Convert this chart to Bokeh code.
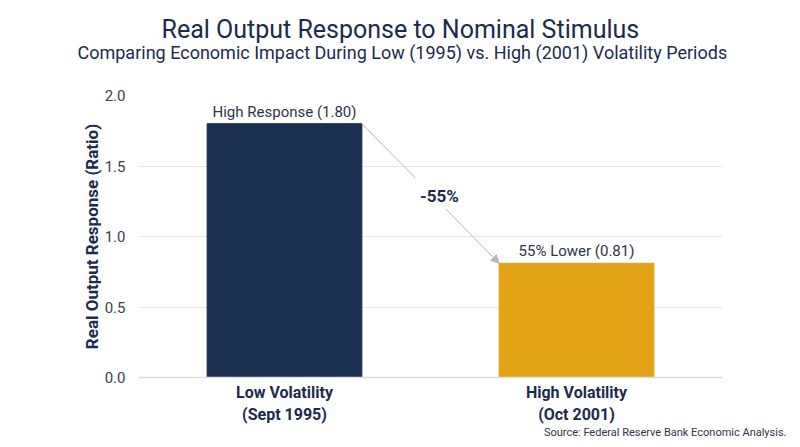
from bokeh.plotting import figure
from bokeh.models import (ColumnDataSource, Label, Arrow, NormalHead, FactorRange, Range1d,
                          Title, PrintfTickFormatter)
from bokeh.core.properties import value
from bokeh.embed import file_html
from bokeh.resources import INLINE

categories = ["Low Volatility\n(Sept 1995)", "High Volatility\n(Oct 2001)"]
values = [1.80, 0.81]
bar_labels = ["High Response (1.80)", "55% Lower (0.81)"]
colors = ["#1b2f52", "#e3a316"]
change_label = "-55%"
y_ticks = [0.0, 0.5, 1.0, 1.5, 2.0]
title_text = "Real Output Response to Nominal Stimulus"
subtitle_text = "Comparing Economic Impact During Low (1995) vs. High (2001) Volatility Periods"
source_text = "Source: Federal Reserve Bank Economic Analysis."

NAVY = "#1b2b4b"
FONT = "Roboto"
W, H = 800, 447
FL, FR, FT, FB = 138, 78, 95, 70
BAR_W = 0.53

src = ColumnDataSource(dict(cat=categories, val=values, lab=bar_labels, col=colors))

p = figure(width=W, height=H, x_range=FactorRange(*categories, range_padding=0),
           y_range=Range1d(0, 2.0), output_backend="svg", toolbar_location=None,
           min_border_left=FL, min_border_right=FR, min_border_top=FT, min_border_bottom=FB)
p.outline_line_color = None
p.background_fill_color = "white"
p.border_fill_color = "white"

p.vbar(x="cat", top="val", width=BAR_W, color="col", source=src)

p.text(x="cat", y="val", text="lab", source=src, text_align="center", text_baseline="bottom",
       y_offset=-3, text_font_size="15px", text_color="#2e3547", text_font=value(FONT))

# axes
p.yaxis.ticker = y_ticks
p.yaxis.formatter = PrintfTickFormatter(format="%.1f")
p.yaxis.axis_line_color = None
p.yaxis.major_tick_line_color = None
p.yaxis.minor_tick_line_color = None
p.yaxis.major_label_text_font = FONT
p.yaxis.major_label_text_font_size = "15px"
p.yaxis.major_label_text_color = "#3a3f4a"
p.yaxis.major_label_standoff = 7
p.yaxis.axis_label = "Real Output Response (Ratio)"
p.yaxis.axis_label_text_font = FONT
p.yaxis.axis_label_text_font_style = "bold"
p.yaxis.axis_label_text_font_size = "17px"
p.yaxis.axis_label_text_color = NAVY
p.yaxis.axis_label_standoff = 0

p.xaxis.axis_line_color = "#dddddd"
p.xaxis.axis_line_width = 1.5
p.xaxis.major_tick_line_color = None
p.xaxis.minor_tick_line_color = None
p.xaxis.major_label_text_font = FONT
p.xaxis.major_label_text_font_style = "bold"
p.xaxis.major_label_text_font_size = "16px"
p.xaxis.major_label_text_color = NAVY
p.xaxis.major_label_standoff = -1

p.xgrid.grid_line_color = None
p.ygrid.grid_line_color = "#e6e6e6"
p.ygrid.grid_line_width = 1

# arrow between bars, broken around the change label
x0 = 0.5 + BAR_W / 2
x1 = 1.5 - BAR_W / 2
y0, y1 = values[0], values[1]
t1, t2 = 0.39, 0.61
xa, ya = x0 + (x1 - x0) * t1, y0 + (y1 - y0) * t1
xb, yb = x0 + (x1 - x0) * t2, y0 + (y1 - y0) * t2
p.segment(x0=[x0], y0=[y0], x1=[xa], y1=[ya], line_color="#b5b5b5", line_width=1)
p.add_layout(Arrow(end=NormalHead(size=8, fill_color="#b5b5b5", line_color="#b5b5b5"),
                   x_start=xb, y_start=yb, x_end=x1, y_end=y1,
                   line_color="#b5b5b5", line_width=1))
xm, ym = (x0 + x1) / 2, (y0 + y1) / 2
p.add_layout(Label(x=xm, y=ym, text=change_label, text_align="center", text_baseline="middle",
                   x_offset=9, y_offset=-3, text_font=FONT, text_font_style="bold",
                   text_font_size="17px", text_color=NAVY))

# titles (first added sits closest to the frame); shifted to be centred on the page
p.add_layout(Title(text=" ", text_font_size="1px", standoff=30), "above")  # spacer
p.add_layout(Title(text=subtitle_text, align="left", offset=-61, text_font=FONT,
                   text_font_size="18px", text_font_style="normal", text_color=NAVY,
                   standoff=0), "above")
p.add_layout(Title(text=title_text, align="left", offset=23, text_font=FONT,
                   text_font_size="25px", text_font_style="normal", text_color=NAVY,
                   standoff=-8), "above")
p.add_layout(Title(text=source_text, align="right", offset=-64, text_font=FONT,
                   text_font_size="11px", text_font_style="normal", text_color="#2e3547",
                   standoff=-8), "below")

open("out.html", "w").write(file_html(p, INLINE))
